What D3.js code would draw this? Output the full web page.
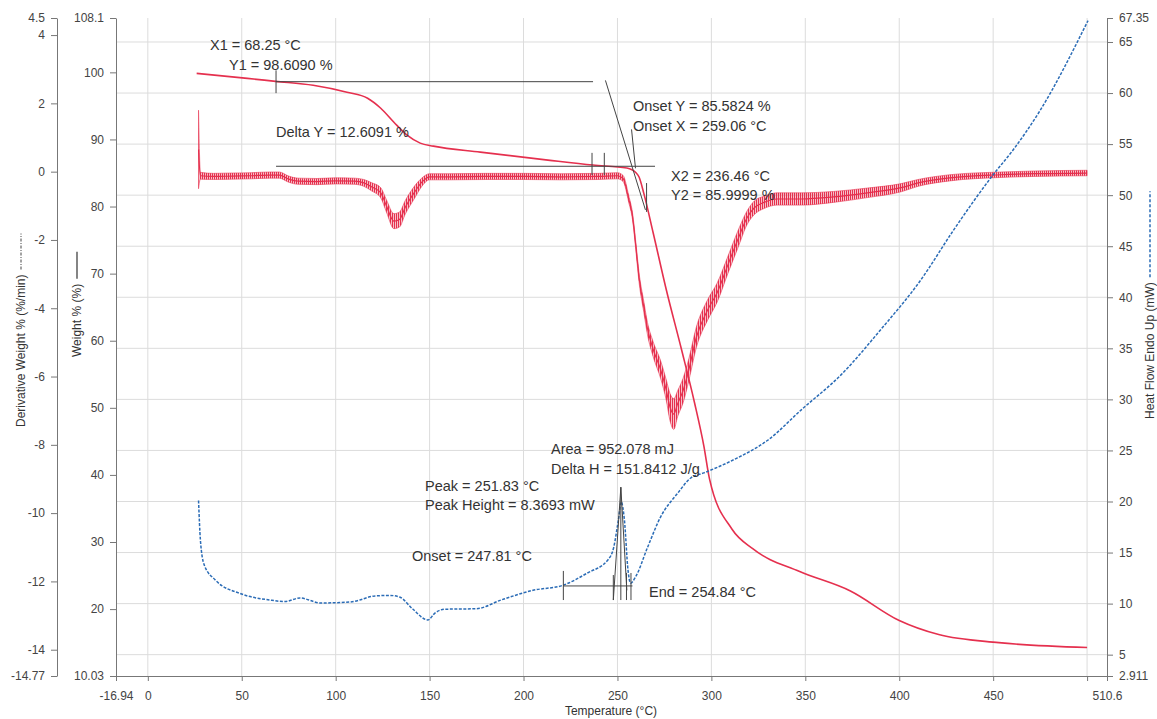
<!DOCTYPE html>
<html>
<head>
<meta charset="utf-8">
<script src="https://cdn.jsdelivr.net/npm/d3@7"></script>
<style>
  body { margin: 0; background: #fff; }
  svg { font-family: "Liberation Sans", Arial, sans-serif; }
  .tick text { font-size: 12px; fill: #444; }
  .axis path, .axis line { stroke: #777; }
  .grid line { stroke: #dcdcdc; }
  .note { font-size: 14.5px; fill: #333; }
  .mark { stroke: #444; stroke-width: 1; fill: none; }
</style>
</head>
<body>
<svg width="1157" height="719"></svg>
<script>
// temperature (°C) vs weight %
var weightTemp = [26, 53, 68, 88, 106, 117, 124, 131, 138, 145, 152, 177, 213, 237, 255, 260, 261.5, 264, 269, 276, 284, 291, 296, 299, 311, 322, 347, 374, 400, 421, 453, 500];
var weightVal = [99.85, 99.1, 98.66, 98.07, 97.03, 96.14, 94.65, 92.57, 90.64, 89.45, 89.0, 88.11, 86.92, 86.18, 85.74, 84.99, 84.4, 82.0, 76.1, 67.6, 58.8, 50.8, 44.3, 39.4, 31.9, 29.0, 25.6, 22.7, 18.3, 16.2, 15.0, 14.27];

// derivative weight (%/min): centre and noise half-width
var derivTemp = [27, 28, 35, 45, 55, 65, 70, 75, 80, 90, 100, 110, 115, 119, 124, 127, 131, 134, 137, 142, 146, 150, 160, 180, 200, 220, 240, 250, 253, 256, 258, 260, 261.5, 264, 266, 269, 273, 276, 278, 280, 282, 285, 288, 292, 298, 303, 309, 314, 319, 323, 328, 335, 348, 365, 383, 401, 410, 427, 454, 472, 500];
var derivMid = [0.65, -0.12, -0.14, -0.13, -0.12, -0.1, -0.1, -0.22, -0.28, -0.29, -0.27, -0.28, -0.33, -0.44, -0.62, -1.0, -1.45, -1.4, -1.05, -0.6, -0.3, -0.15, -0.15, -0.14, -0.14, -0.15, -0.14, -0.12, -0.2, -0.8, -1.3, -2.3, -3.1, -3.95, -4.6, -5.2, -5.8, -6.4, -6.9, -7.1, -6.8, -6.4, -5.8, -4.85, -4.05, -3.55, -2.7, -2.0, -1.35, -1.05, -0.9, -0.8, -0.8, -0.74, -0.62, -0.47, -0.33, -0.18, -0.09, -0.06, -0.04];
var derivNoise = [1.15, 0.1, 0.09, 0.09, 0.09, 0.09, 0.09, 0.09, 0.09, 0.09, 0.09, 0.09, 0.1, 0.12, 0.15, 0.18, 0.22, 0.22, 0.2, 0.18, 0.12, 0.09, 0.09, 0.09, 0.09, 0.09, 0.09, 0.09, 0.09, 0.1, 0.1, 0.12, 0.14, 0.16, 0.18, 0.22, 0.26, 0.3, 0.4, 0.45, 0.38, 0.36, 0.32, 0.3, 0.3, 0.28, 0.25, 0.25, 0.2, 0.2, 0.18, 0.18, 0.18, 0.16, 0.14, 0.12, 0.1, 0.09, 0.08, 0.08, 0.08];

// heat flow (mW)
var heatTemp = [27, 28, 30, 36, 49, 65, 73, 81, 92, 108, 121, 129, 134, 141, 149, 153, 158, 175, 188, 205, 221, 234, 245, 248, 250.5, 252, 253.7, 255.6, 257, 259.6, 266, 273, 282, 289, 296, 312, 330, 348, 369, 390, 411.5, 429, 450, 460.5, 475, 500.5];
var heatVal = [20.1, 16.2, 13.8, 12.3, 11.0, 10.35, 10.2, 10.55, 10.06, 10.16, 10.75, 10.8, 10.65, 9.47, 8.4, 9.1, 9.45, 9.5, 10.35, 11.3, 11.8, 13.0, 14.3, 15.5, 18.2, 19.95, 18.2, 13.3, 12.0, 12.6, 15.5, 18.5, 20.8, 22.3, 22.8, 24.1, 26.0, 29.0, 32.4, 36.8, 41.7, 46.6, 52.0, 54.4, 58.3, 67.1];

// axis ticks
var xTicks = [-16.94, 0, 50, 100, 150, 200, 250, 300, 350, 400, 450, 500, 510.6];
var weightTicks = [10.03, 20, 30, 40, 50, 60, 70, 80, 90, 100, 108.1];
var derivTicks = [-14.77, -14, -12, -10, -8, -6, -4, -2, 0, 2, 4, 4.5];
var heatTicks = [2.911, 5, 10, 15, 20, 25, 30, 35, 40, 45, 50, 55, 60, 65, 67.35];

var svg = d3.select("svg");
var red = "#e5304e", blue = "#2b6cb6";

var x = d3.scaleLinear().domain([-16.94, 510.6]).range([116, 1107]);
var yW = d3.scaleLinear().domain([10.03, 108.1]).range([676, 18]);
var yD = d3.scaleLinear().domain([-14.77, 4.5]).range([676, 18]);
var yH = d3.scaleLinear().domain([2.911, 67.35]).range([676, 18]);

// vertical hatch used to give the noisy derivative trace its texture
var pat = svg.append("defs").append("pattern").attr("id", "hatch")
    .attr("patternUnits", "userSpaceOnUse").attr("width", 2).attr("height", 4);
pat.append("rect").attr("width", 1.3).attr("height", 4).attr("fill", red);

// grid
var grid = svg.append("g").attr("class", "grid");
grid.selectAll(".gv").data(d3.range(0, 501, 50)).enter().append("line")
    .attr("x1", d => x(d)).attr("x2", d => x(d)).attr("y1", 18).attr("y2", 676);
grid.selectAll(".gh").data(d3.range(5, 66, 5)).enter().append("line")
    .attr("x1", 116).attr("x2", 1107).attr("y1", d => yH(d)).attr("y2", d => yH(d));

// axes
svg.append("g").attr("class", "axis").attr("transform", "translate(0,676)")
    .call(d3.axisBottom(x).tickValues(xTicks).tickSize(5).tickSizeOuter(0).tickPadding(10)
        .tickFormat(d => d === 500 ? "" : d));
svg.append("g").attr("class", "axis").attr("transform", "translate(116,0)")
    .call(d3.axisLeft(yW).tickValues(weightTicks).tickSize(6).tickSizeOuter(0).tickPadding(6).tickFormat(d => d));
svg.append("g").attr("class", "axis").attr("transform", "translate(57,0)")
    .call(d3.axisLeft(yD).tickValues(derivTicks).tickSize(6).tickSizeOuter(0).tickPadding(6).tickFormat(d => d));
svg.append("g").attr("class", "axis").attr("transform", "translate(1107,0)")
    .call(d3.axisRight(yH).tickValues(heatTicks).tickSize(6).tickSizeOuter(0).tickPadding(6).tickFormat(d => d));

svg.append("text").attr("x", 611).attr("y", 715).attr("text-anchor", "middle")
    .style("font-size", "12px").attr("fill", "#333").text("Temperature (°C)");

// rotated titles with their line-style keys
function title(px, py, label, keyLen, keyStyle) {
    var g = svg.append("g").attr("transform", "translate(" + px + "," + py + ") rotate(-90)");
    var t = g.append("text").attr("x", 0).attr("y", 0).style("font-size", "12px").attr("fill", "#333").text(label);
    var w = t.node().getComputedTextLength();
    var l = g.append("line").attr("x1", w + 5).attr("x2", w + 5 + keyLen).attr("y1", -4).attr("y2", -4)
        .attr("stroke", keyStyle.color).attr("stroke-width", keyStyle.width);
    if (keyStyle.dash) l.attr("stroke-dasharray", keyStyle.dash);
}
title(25, 427, "Derivative Weight % (%/min)", 36, { color: "#444", width: 1, dash: "3,1.5,1,1.5" });
title(81, 357, "Weight % (%)", 27, { color: "#333", width: 1.2 });
title(1154, 419, "Heat Flow Endo Up (mW)", 86, { color: blue, width: 1.5, dash: "3,2" });

// derivative band
var deriv = derivTemp.map((t, i) => ({ t: t, mid: derivMid[i], lo: derivMid[i] - derivNoise[i], hi: derivMid[i] + derivNoise[i] }));
svg.append("path").datum(deriv)
    .attr("fill", "url(#hatch)").attr("stroke", red).attr("stroke-width", 0.7).attr("stroke-opacity", 0.8)
    .attr("d", d3.area().x(d => x(d.t)).y0(d => yD(d.lo)).y1(d => yD(d.hi)).curve(d3.curveMonotoneX));
svg.append("path").datum(deriv)
    .attr("fill", "none").attr("stroke", red).attr("stroke-width", 1.2)
    .attr("d", d3.line().x(d => x(d.t)).y(d => yD(d.mid)).curve(d3.curveMonotoneX));

// weight curve
var weight = weightTemp.map((t, i) => [t, weightVal[i]]);
svg.append("path").datum(weight)
    .attr("fill", "none").attr("stroke", red).attr("stroke-width", 1.6)
    .attr("d", d3.line().x(d => x(d[0])).y(d => yW(d[1])).curve(d3.curveMonotoneX));

// heat flow curve
var heat = heatTemp.map((t, i) => [t, heatVal[i]]);
svg.append("path").datum(heat)
    .attr("fill", "none").attr("stroke", blue).attr("stroke-width", 1.5).attr("stroke-dasharray", "3,1.5")
    .attr("d", d3.line().x(d => x(d[0])).y(d => yH(d[1])).curve(d3.curveMonotoneX));

// analysis marks on weight scale
var weightMarks = [
    [68.25, 98.609, 237, 98.609],
    [68.25, 100.3, 68.25, 96.9],
    [68.25, 86.0, 270, 86.0],
    [236.46, 88.0, 236.46, 84.7],
    [243, 88.0, 243, 84.7],
    [243.6, 98.8, 264.9, 79.5],
    [257.5, 91.5, 259.6, 85.7],
    [265.5, 83.5, 265.5, 79.2]
];
svg.selectAll(".wm").data(weightMarks).enter().append("line").attr("class", "mark")
    .attr("x1", d => x(d[0])).attr("y1", d => yW(d[1])).attr("x2", d => x(d[2])).attr("y2", d => yW(d[3]));

// analysis marks on heat flow scale
var heatMarks = [
    [221.2, 11.73, 258, 11.73],
    [221.2, 13.2, 221.2, 10.35],
    [247.8, 10.35, 251.8, 21.4],
    [251.8, 21.4, 255.0, 11.3],
    [251.8, 21.4, 251.8, 10.35],
    [247.8, 12.8, 247.8, 10.35],
    [254.8, 13.0, 254.8, 10.35],
    [257.2, 13.0, 257.2, 10.35]
];
svg.selectAll(".hm").data(heatMarks).enter().append("line").attr("class", "mark")
    .attr("x1", d => x(d[0])).attr("y1", d => yH(d[1])).attr("x2", d => x(d[2])).attr("y2", d => yH(d[3]));

// annotation texts
var notes = [
    ["X1 = 68.25 °C", 210, 50],
    ["Y1 = 98.6090 %", 229, 70],
    ["Delta Y = 12.6091 %", 276, 137],
    ["Onset Y = 85.5824 %", 633, 111],
    ["Onset X = 259.06 °C", 633, 131],
    ["X2 = 236.46 °C", 671, 181],
    ["Y2 = 85.9999 %", 671, 200],
    ["Area = 952.078 mJ", 551, 454],
    ["Delta H = 151.8412 J/g", 551, 474],
    ["Peak = 251.83 °C", 425, 491],
    ["Peak Height = 8.3693 mW", 425, 510],
    ["Onset = 247.81 °C", 412, 561],
    ["End = 254.84 °C", 649, 597]
];
svg.selectAll(".note").data(notes).enter().append("text").attr("class", "note")
    .attr("x", d => d[1]).attr("y", d => d[2]).text(d => d[0]);
</script>
</body>
</html>
